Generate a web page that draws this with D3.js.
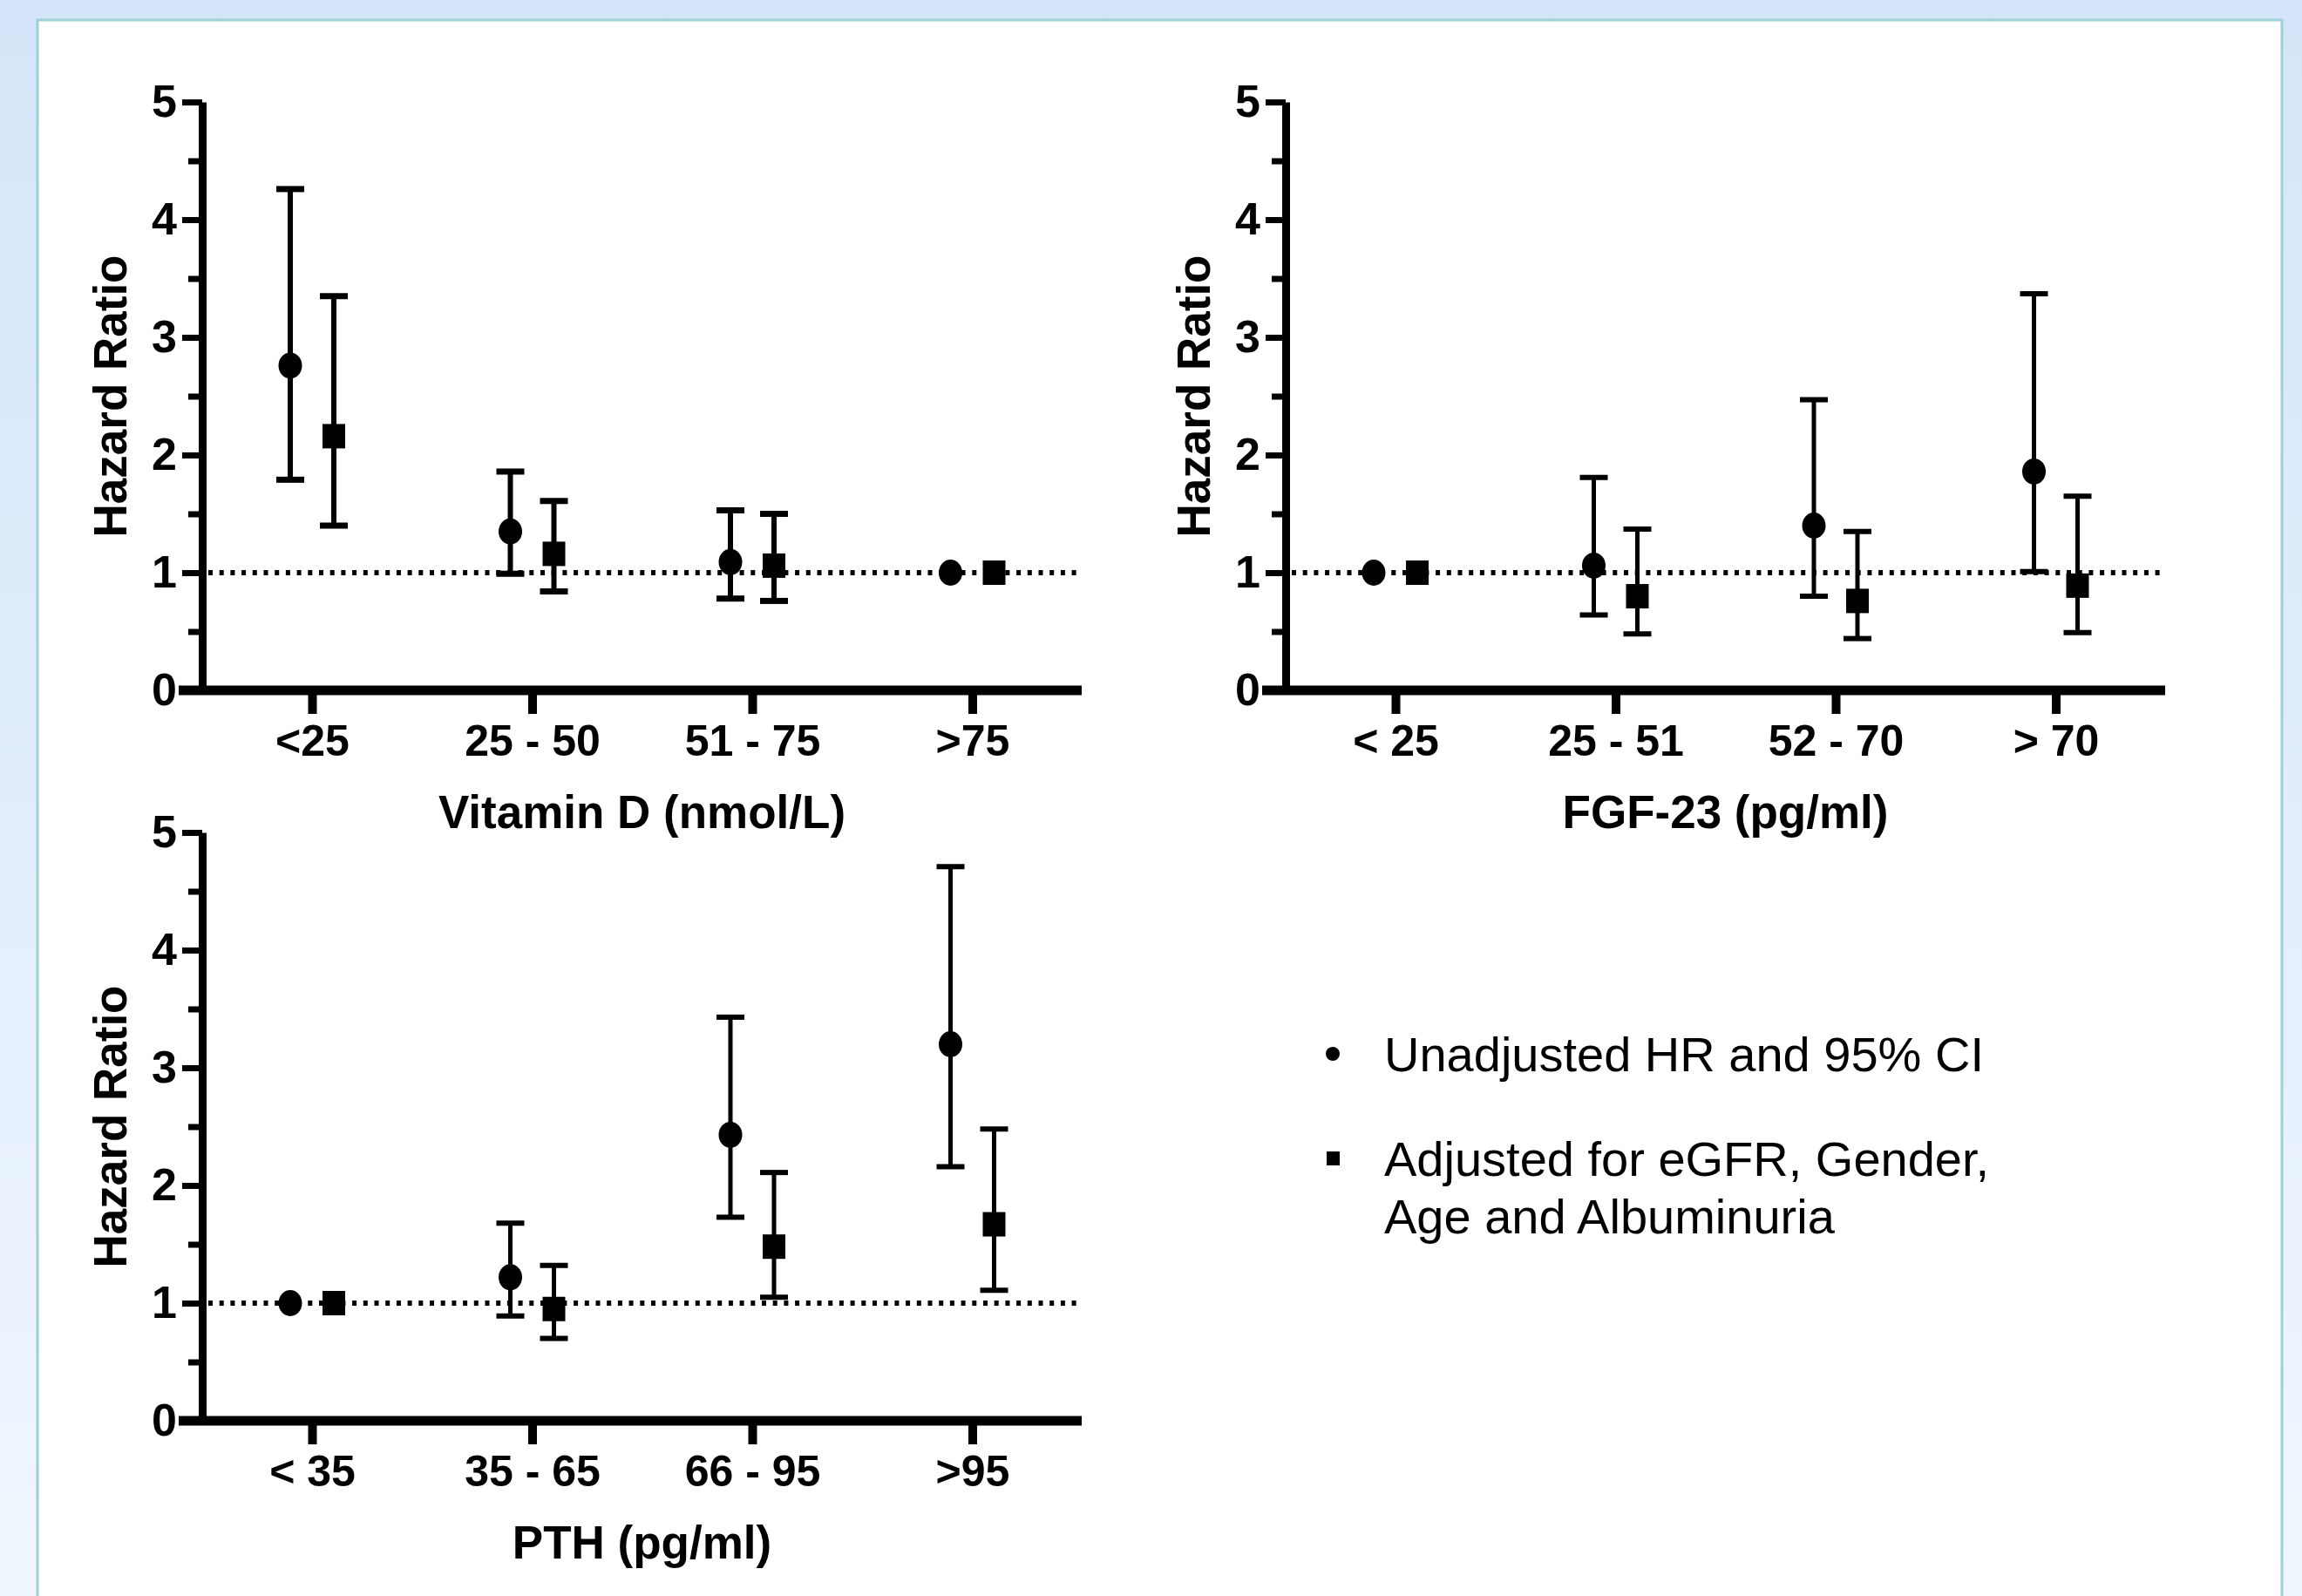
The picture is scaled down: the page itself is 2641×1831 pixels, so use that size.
<!DOCTYPE html>
<html>
<head>
<meta charset="utf-8">
<script src="https://cdn.jsdelivr.net/npm/d3@7"></script>
<style>
  html, body { margin: 0; padding: 0; background: #ffffff; }
  svg text { font-family: "Liberation Sans", Arial, Helvetica, sans-serif; }
</style>
</head>
<body>
<div id="chart"></div>
<script>
// ---------------- DATA ----------------
const yTicks = [0, 1, 2, 3, 4, 5];
const yMinorTicks = [0.5, 1.5, 2.5, 3.5, 4.5];

const vitDCategories = ["<25", "25 - 50", "51 - 75", ">75"];
const vitDUnadj   = [2.76, 1.35, 1.09, 1.00];
const vitDUnadjLo = [1.79, 0.99, 0.78, null];
const vitDUnadjHi = [4.26, 1.86, 1.53, null];
const vitDAdj     = [2.16, 1.16, 1.06, 1.00];
const vitDAdjLo   = [1.40, 0.84, 0.76, null];
const vitDAdjHi   = [3.35, 1.61, 1.50, null];

const fgfCategories = ["< 25", "25 - 51", "52 - 70", "> 70"];
const fgfUnadj   = [1.00, 1.06, 1.40, 1.86];
const fgfUnadjLo = [null, 0.64, 0.80, 1.01];
const fgfUnadjHi = [null, 1.81, 2.47, 3.37];
const fgfAdj     = [1.00, 0.80, 0.76, 0.89];
const fgfAdjLo   = [null, 0.48, 0.44, 0.49];
const fgfAdjHi   = [null, 1.37, 1.35, 1.65];

const pthCategories = ["< 35", "35 - 65", "66 - 95", ">95"];
const pthUnadj   = [1.00, 1.22, 2.43, 3.20];
const pthUnadjLo = [null, 0.89, 1.73, 2.16];
const pthUnadjHi = [null, 1.68, 3.43, 4.71];
const pthAdj     = [1.00, 0.95, 1.48, 1.67];
const pthAdjLo   = [null, 0.70, 1.05, 1.11];
const pthAdjHi   = [null, 1.32, 2.11, 2.48];

const yAxisTitle = "Hazard Ratio";
const referenceValue = 1;
const legendUnadj = ["Unadjusted HR and 95% CI"];
const legendAdj = ["Adjusted for eGFR, Gender,", "Age and Albuminuria"];

// ---------------- LAYOUT ----------------
const W = 2641, H = 1831;
const svg = d3.select("#chart").append("svg")
  .attr("width", W).attr("height", H);

const defs = svg.append("defs");
const grad = defs.append("linearGradient").attr("id", "bg")
  .attr("x1", 0).attr("y1", 0).attr("x2", 0).attr("y2", 1);
grad.append("stop").attr("offset", "0%").attr("stop-color", "#d4e5f9");
grad.append("stop").attr("offset", "100%").attr("stop-color", "#eff6fe");

svg.append("rect").attr("x", 0).attr("y", 0).attr("width", W).attr("height", H)
  .attr("fill", "url(#bg)");
svg.append("rect").attr("x", 43).attr("y", 23).attr("width", 2575).attr("height", 1840)
  .attr("fill", "#ffffff").attr("stroke", "#9fcfd7").attr("stroke-width", 3);

const font = '"Liberation Sans", Arial, Helvetica, sans-serif';

function drawPanel(cfg) {
  const { axisX, y0, cats, title, u, uLo, uHi, a, aLo, aHi, bar } = cfg;
  const plotH = 675;
  const tickStart = axisX + 126, tickStep = 252.5, axisEnd = axisX + 1009;
  const y = d3.scaleLinear().domain([0, 5]).range([y0, y0 - plotH]);
  const x = d3.scalePoint().domain(cats).range([tickStart, tickStart + tickStep * (cats.length - 1)]);
  const g = svg.append("g");

  // reference dotted line
  g.append("line")
    .attr("x1", axisX + 7).attr("x2", axisEnd)
    .attr("y1", y(referenceValue)).attr("y2", y(referenceValue))
    .attr("stroke", "#000").attr("stroke-width", 6)
    .attr("stroke-dasharray", "5,7.7");

  // y axis major
  const ya = g.append("g").attr("transform", `translate(${axisX},0)`)
    .call(d3.axisLeft(y).tickValues(yTicks).tickFormat(d3.format("d"))
      .tickSize(23).tickSizeOuter(0).tickPadding(6));
  ya.select(".domain").attr("stroke", "#000").attr("stroke-width", 9);
  ya.selectAll(".tick line").attr("stroke", "#000").attr("stroke-width", 7);
  ya.selectAll(".tick text").attr("font-family", font).attr("font-size", 52)
    .attr("font-weight", "bold").attr("fill", "#000");

  // y axis minor
  const ym = g.append("g").attr("transform", `translate(${axisX},0)`)
    .call(d3.axisLeft(y).tickValues(yMinorTicks).tickSize(16).tickFormat(""));
  ym.select(".domain").remove();
  ym.selectAll(".tick line").attr("stroke", "#000").attr("stroke-width", 7);

  // x axis
  g.append("line").attr("x1", axisX - 27).attr("x2", axisEnd)
    .attr("y1", y0).attr("y2", y0).attr("stroke", "#000").attr("stroke-width", 11);
  const xa = g.append("g").attr("transform", `translate(0,${y0})`)
    .call(d3.axisBottom(x).tickSize(27).tickPadding(12));
  xa.select(".domain").remove();
  xa.selectAll(".tick line").attr("stroke", "#000").attr("stroke-width", 10);
  xa.selectAll(".tick text").attr("font-family", font).attr("font-size", 50)
    .attr("font-weight", "bold").attr("fill", "#000");

  // axis titles
  g.append("text").attr("x", (axisX + axisEnd) / 2).attr("y", y0 + 158)
    .attr("text-anchor", "middle").attr("font-family", font)
    .attr("font-size", 53).attr("font-weight", "bold").text(title);
  g.append("text")
    .attr("transform", `translate(${axisX - 106},${y(2.5)}) rotate(-90)`)
    .attr("text-anchor", "middle").attr("dominant-baseline", "central")
    .attr("font-family", font).attr("font-size", 53).attr("font-weight", "bold")
    .text(yAxisTitle);

  const off = 25, cap = 16;
  function series(vals, lo, hi, dx, shape) {
    cats.forEach((c, i) => {
      const cx = x(c) + dx;
      if (lo[i] != null) {
        g.append("line").attr("x1", cx).attr("x2", cx)
          .attr("y1", y(lo[i])).attr("y2", y(hi[i]))
          .attr("stroke", "#000").attr("stroke-width", bar);
        [lo[i], hi[i]].forEach(v => {
          g.append("line").attr("x1", cx - cap).attr("x2", cx + cap)
            .attr("y1", y(v)).attr("y2", y(v))
            .attr("stroke", "#000").attr("stroke-width", bar + 1);
        });
      }
      if (shape === "circle") {
        g.append("ellipse").attr("cx", cx).attr("cy", y(vals[i]))
          .attr("rx", 13.5).attr("ry", 15).attr("fill", "#000");
      } else {
        g.append("rect").attr("x", cx - 13).attr("y", y(vals[i]) - 14)
          .attr("width", 26).attr("height", 28).attr("fill", "#000");
      }
    });
  }
  series(u, uLo, uHi, -off, "circle");
  series(a, aLo, aHi, off, "square");
}

drawPanel({ axisX: 232, y0: 792, cats: vitDCategories, title: "Vitamin D (nmol/L)", bar: 6,
  u: vitDUnadj, uLo: vitDUnadjLo, uHi: vitDUnadjHi, a: vitDAdj, aLo: vitDAdjLo, aHi: vitDAdjHi });
drawPanel({ axisX: 1475, y0: 792, cats: fgfCategories, title: "FGF-23 (pg/ml)", bar: 5,
  u: fgfUnadj, uLo: fgfUnadjLo, uHi: fgfUnadjHi, a: fgfAdj, aLo: fgfAdjLo, aHi: fgfAdjHi });
drawPanel({ axisX: 232, y0: 1630, cats: pthCategories, title: "PTH (pg/ml)", bar: 5,
  u: pthUnadj, uLo: pthUnadjLo, uHi: pthUnadjHi, a: pthAdj, aLo: pthAdjLo, aHi: pthAdjHi });

// ---------------- LEGEND ----------------
const lg = svg.append("g");
lg.append("circle").attr("cx", 1529).attr("cy", 1209).attr("r", 8).attr("fill", "#000");
lg.append("text").attr("x", 1588).attr("y", 1229).attr("font-family", font)
  .attr("font-size", 56).attr("fill", "#000").text(legendUnadj[0]);
lg.append("rect").attr("x", 1522).attr("y", 1321).attr("width", 15).attr("height", 16).attr("fill", "#000");
legendAdj.forEach((t, i) => {
  lg.append("text").attr("x", 1588).attr("y", 1349 + i * 66).attr("font-family", font)
    .attr("font-size", 56).attr("fill", "#000").text(t);
});
</script>
</body>
</html>
